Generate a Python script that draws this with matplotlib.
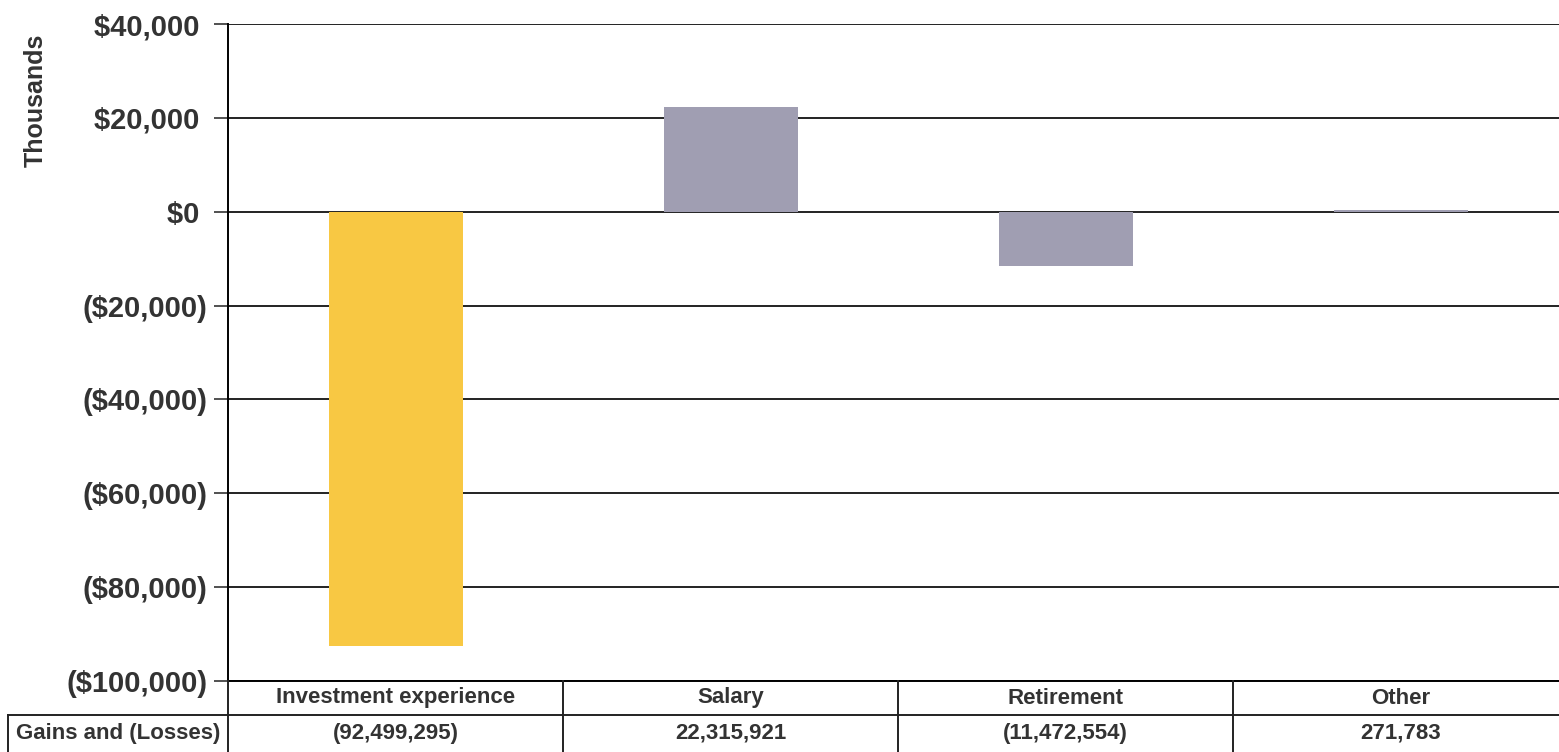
import matplotlib
matplotlib.use("Agg")
from matplotlib import pyplot as plt

# data (thousands for bars, dollars for table)
categories = ["Investment experience", "Salary", "Retirement", "Other"]
gains = [-92499.295, 22315.921, -11472.554, 271.783]
gains_labels = ["(92,499,295)", "22,315,921", "(11,472,554)", "271,783"]
bar_colors = ["#F8C843", "#A09EB2", "#A09EB2", "#A09EB2"]
yticks = [-100000, -80000, -60000, -40000, -20000, 0, 20000, 40000]
row_label = "Gains and (Losses)"

plt.rcParams['font.family'] = ['Liberation Sans', 'DejaVu Sans']
plt.rcParams['font.weight'] = 'bold'

W, H = 1559, 752
fig = plt.figure(figsize=(W / 100, H / 100), dpi=100)

# 坐标区位置 (像素换算), 右边缘超出画布
left, right, top, bottom = 228, 1568, 24, 681
ax = fig.add_axes([left / W, 1 - bottom / H, (right - left) / W, (bottom - top) / H])

x = list(range(len(categories)))
ax.bar(x, gains, width=0.4, color=bar_colors, zorder=3)

ax.set_xlim(-0.5, len(categories) - 0.5)
ax.set_ylim(-100000, 40000)
ax.set_yticks(yticks)


def money(v):
    # 会计格式: 正数后面留一个括号宽度的空白
    s = "${:,.0f}".format(abs(v))
    return "(" + s + ")" if v < 0 else s + " "


ax.set_yticklabels([money(v) for v in yticks], fontsize=21, color="#333333", fontweight="bold")
ax.tick_params(axis="y", length=10, width=1.2, color="#333333", pad=5)
ax.set_xticks([])
ax.grid(axis="y", color="#222222", linewidth=1.4, zorder=1)

for s in ["top", "right"]:
    ax.spines[s].set_visible(False)
ax.spines["left"].set_linewidth(1.4)
ax.spines["bottom"].set_linewidth(1.4)

fig.text(36 / W, 1 - 100 / H, "Thousands", rotation=90, ha="center", va="center",
         fontsize=18, color="#333333", fontweight="bold")

# 表格
tab = fig.add_axes([left / W, 0, (right - left) / W, (H - bottom) / H])
tab.set_xlim(-0.5, len(categories) - 0.5)
tab.set_ylim(0, H - bottom)
tab.axis("off")
row_split = H - 715
xl = -0.5 - (left - 8) / ((right - left) / len(categories))
tab.plot([xl, len(categories) - 0.5], [row_split, row_split], color="#222222", lw=1.4, clip_on=False)
tab.plot([xl, xl], [0, row_split], color="#222222", lw=1.4, clip_on=False)
for i in range(len(categories) + 1):
    tab.plot([i - 0.5, i - 0.5], [0, H - bottom], color="#222222", lw=1.4, clip_on=False)

for i, (c, g) in enumerate(zip(categories, gains_labels)):
    tab.text(i, (row_split + H - bottom) / 2, c, ha="center", va="center",
             fontsize=16, color="#333333", fontweight="bold")
    tab.text(i, row_split / 2, g, ha="center", va="center",
             fontsize=16, color="#333333", fontweight="bold")
tab.text((xl - 0.5) / 2, row_split / 2, row_label, ha="center", va="center",
         fontsize=16, color="#333333", fontweight="bold", clip_on=False)

fig.savefig("out.png", dpi=100)
